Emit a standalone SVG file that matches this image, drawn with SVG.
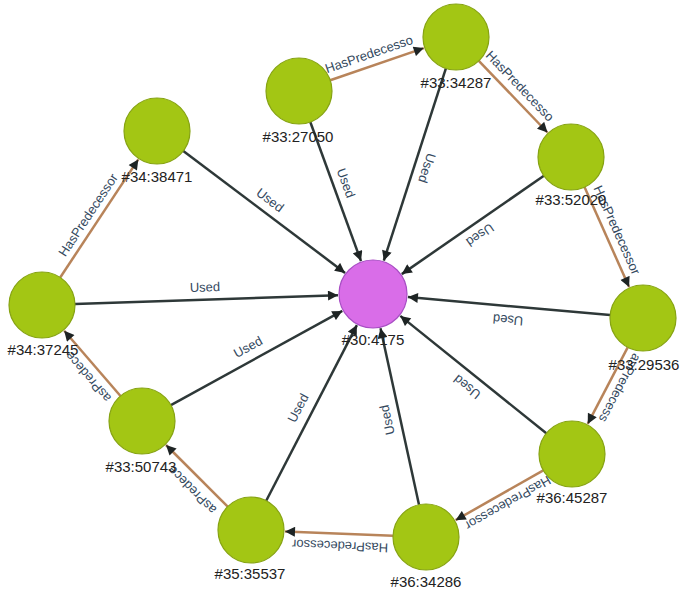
<svg xmlns="http://www.w3.org/2000/svg" width="685" height="589" viewBox="0 0 685 589">
<style>
.used{stroke:#2e3838;stroke-width:2.5;fill:none;marker-end:url(#arr)}
.pred{stroke:#b8845a;stroke-width:2.5;fill:none;marker-end:url(#arr)}
.el{font-family:"Liberation Sans",Arial,sans-serif;font-size:13px;fill:#34495e;text-anchor:middle}
.g{fill:#a3c614;stroke:#86a312;stroke-width:1.2}
.m{fill:#d96de8;stroke:#a84ec4;stroke-width:1.2}
.nl{font-family:"Liberation Sans",Arial,sans-serif;font-size:15px;fill:#222;text-anchor:middle}
</style>
<defs>
<marker id="arr" viewBox="0 0 10 10" refX="10" refY="5" markerWidth="11" markerHeight="10" markerUnits="userSpaceOnUse" orient="auto">
<path d="M0,0 L10,5 L0,10 z" fill="#1e2424"/>
</marker>
</defs>
<rect width="685" height="589" fill="#fff"/>
<g id="connectors">
<line class="used" x1="310.3" y1="122.0" x2="361.0" y2="261.1"/>
<line class="used" x1="445.9" y1="68.4" x2="383.8" y2="260.7"/>
<line class="used" x1="543.9" y1="175.8" x2="401.8" y2="274.1"/>
<line class="used" x1="610.1" y1="315.1" x2="407.9" y2="297.1"/>
<line class="used" x1="546.3" y1="433.3" x2="400.3" y2="315.9"/>
<line class="used" x1="419.0" y1="504.8" x2="380.5" y2="328.2"/>
<line class="used" x1="266.2" y1="500.7" x2="356.9" y2="325.1"/>
<line class="used" x1="170.9" y1="405.1" x2="342.3" y2="310.9"/>
<line class="used" x1="75.0" y1="303.9" x2="338.0" y2="295.2"/>
<line class="used" x1="183.3" y1="150.9" x2="345.1" y2="272.9"/>
<line class="pred" x1="330.2" y1="80.3" x2="423.8" y2="48.1"/>
<line class="pred" x1="478.8" y1="60.8" x2="547.5" y2="132.5"/>
<line class="pred" x1="584.5" y1="187.1" x2="629.1" y2="287.0"/>
<line class="pred" x1="627.7" y1="347.3" x2="587.7" y2="423.9"/>
<line class="pred" x1="543.3" y1="470.3" x2="455.6" y2="520.2"/>
<line class="pred" x1="393.0" y1="535.7" x2="285.0" y2="531.4"/>
<line class="pred" x1="227.7" y1="506.7" x2="166.0" y2="445.0"/>
<line class="pred" x1="120.5" y1="396.0" x2="64.2" y2="330.8"/>
<line class="pred" x1="60.2" y1="277.5" x2="138.3" y2="159.4"/>
<text class="el" transform="translate(346,183) rotate(70)" y="4.5">Used</text>
<text class="el" transform="translate(427,168) rotate(107.9)" y="4.5">Used</text>
<text class="el" transform="translate(480,235) rotate(145.3)" y="4.5">Used</text>
<text class="el" transform="translate(508,320) rotate(185.1)" y="4.5">Used</text>
<text class="el" transform="translate(467,387) rotate(218.8)" y="4.5">Used</text>
<text class="el" transform="translate(387,420) rotate(257.7)" y="4.5">Used</text>
<text class="el" transform="translate(298,408) rotate(-62.7)" y="4.5">Used</text>
<text class="el" transform="translate(248,347) rotate(-28.8)" y="4.5">Used</text>
<text class="el" transform="translate(205,287) rotate(-1.9)" y="4.5">Used</text>
<text class="el" transform="translate(270,200) rotate(37)" y="4.5">Used</text>
<text class="el" transform="translate(369,54) rotate(-19)" y="4.5">HasPredecesso</text>
<text class="el" transform="translate(520,86) rotate(46.2)" y="4.5">HasPredecesso</text>
<text class="el" transform="translate(617,230) rotate(65.9)" y="4.5">HasPredecessor</text>
<text class="el" transform="translate(620,388) rotate(117.6)" y="4.5">asPredecess</text>
<text class="el" transform="translate(508,503) rotate(150.4)" y="4.5">HasPredecessor</text>
<text class="el" transform="translate(340,546) rotate(182.3)" y="4.5">HasPredecessor</text>
<text class="el" transform="translate(192,490) rotate(225)" y="4.5">asPredece</text>
<text class="el" transform="translate(88,377) rotate(229.2)" y="4.5">asPredece</text>
<text class="el" transform="translate(88,215) rotate(-56.5)" y="4.5">HasPredecessor</text>
</g>
<g id="n30_4175"><circle class="m" cx="373" cy="294" r="34"/><text class="nl" x="373" y="345">#30:4175</text></g>
<g id="n33_27050"><circle class="g" cx="299" cy="91" r="33"/><text class="nl" x="298" y="142">#33:27050</text></g>
<g id="n33_34287"><circle class="g" cx="456" cy="37" r="33"/><text class="nl" x="456" y="88">#33:34287</text></g>
<g id="n33_52020"><circle class="g" cx="571" cy="157" r="33"/><text class="nl" x="571" y="205">#33:52020</text></g>
<g id="n33_29536"><circle class="g" cx="643" cy="318" r="33"/><text class="nl" x="644" y="370">#33:29536</text></g>
<g id="n36_45287"><circle class="g" cx="572" cy="454" r="33"/><text class="nl" x="572" y="503">#36:45287</text></g>
<g id="n36_34286"><circle class="g" cx="426" cy="537" r="33"/><text class="nl" x="426" y="587">#36:34286</text></g>
<g id="n35_35537"><circle class="g" cx="251" cy="530" r="33"/><text class="nl" x="250" y="579">#35:35537</text></g>
<g id="n33_50743"><circle class="g" cx="142" cy="421" r="33"/><text class="nl" x="141" y="472">#33:50743</text></g>
<g id="n34_37245"><circle class="g" cx="42" cy="305" r="33"/><text class="nl" x="43" y="355">#34:37245</text></g>
<g id="n34_38471"><circle class="g" cx="157" cy="131" r="33"/><text class="nl" x="157" y="182">#34:38471</text></g>
</svg>
